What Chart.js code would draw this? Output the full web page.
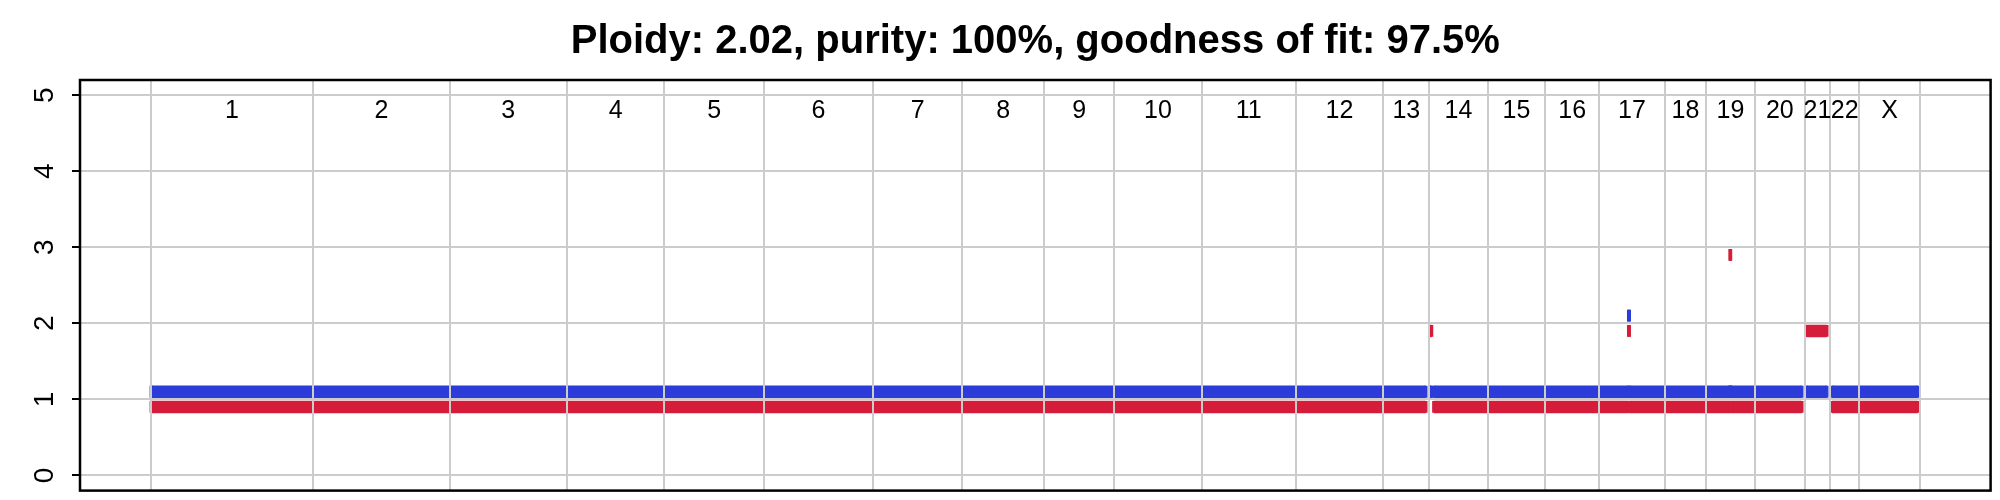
<!DOCTYPE html>
<html>
<head>
<meta charset="utf-8">
<script src="https://cdn.jsdelivr.net/npm/chart.js@4.4.1/dist/chart.umd.min.js"></script>
<style>
  html, body { margin: 0; padding: 0; background: #ffffff; }
  canvas { display: block; }
</style>
</head>
<body>
<canvas id="c" width="2000" height="500"></canvas>
<script>
// ---- Data (x axis = cumulative probe index) ----
const chromLabels = ['1','2','3','4','5','6','7','8','9','10','11','12','13','14','15','16','17','18','19','20','21','22','X'];
const chromSizes = [16260, 13650, 11750, 9760, 9960, 10950, 8890, 8230, 6990, 8790, 9380, 8790, 4600, 5850, 5760, 5400, 6560, 4150, 4870, 5000, 2550, 2900, 6070];

// copy-number segments: first / last probe index of each segment
const segStart = [60,     128050, 128460, 147965, 148020, 158135, 158155, 165740, 168310];
const segEnd   = [127645, 128220, 147960, 148015, 158125, 158145, 165290, 167790, 176900];
const majorCN  = [1, 2, 1, 2, 1, 3, 1, 2, 1];   // red
const minorCN  = [1, 1, 1, 2, 1, 1, 1, 1, 1];   // blue

const yTicks = [0, 1, 2, 3, 4, 5];
const titleText = 'Ploidy: 2.02, purity: 100%, goodness of fit: 97.5%';

// ---- Derived ----
const boundaries = [0];
chromSizes.forEach(s => boundaries.push(boundaries[boundaries.length - 1] + s));
const total = boundaries[boundaries.length - 1];

const FONT = '"Liberation Sans", Arial, Helvetica, sans-serif';
const RED = '#d51c3a';
const BLUE = '#2b3cd8';
const GRID = '#cccccc';

function buildSeries(values, offset) {
  const pts = [];
  segStart.forEach((s, i) => {
    pts.push({ x: s, y: values[i] + offset });
    pts.push({ x: segEnd[i], y: values[i] + offset });
    pts.push({ x: segEnd[i], y: null });
  });
  return pts;
}

function cnDataset(label, values, offset, color) {
  return {
    label,
    data: buildSeries(values, offset),
    borderColor: color,
    backgroundColor: color,
    borderWidth: 12.5,
    borderCapStyle: 'butt',
    // each probe is drawn as a "|" glyph: vertical marker at segment ends
    pointStyle: 'line',
    pointRotation: 90,
    pointRadius: 5.9,
    pointBorderWidth: 3.5,
    pointBorderColor: color,
    pointBackgroundColor: color,
    spanGaps: false,
    tension: 0
  };
}

const boxAndLabels = {
  id: 'boxAndLabels',
  afterDraw(chart) {
    const { ctx, chartArea: a, scales: { x, y } } = chart;
    ctx.save();
    ctx.font = '25px ' + FONT;
    ctx.fillStyle = '#000000';
    ctx.textAlign = 'center';
    ctx.textBaseline = 'middle';
    chromLabels.forEach((lab, i) => {
      const mid = (boundaries[i] + boundaries[i + 1]) / 2;
      ctx.fillText(lab, x.getPixelForValue(mid), y.getPixelForValue(4.79));
    });
    ctx.strokeStyle = '#000000';
    ctx.lineWidth = 2.5;
    ctx.strokeRect(a.left, a.top, a.right - a.left, a.bottom - a.top);
    ctx.restore();
  }
};

new Chart(document.getElementById('c'), {
  type: 'line',
  data: {
    datasets: [
      cnDataset('major', majorCN, -0.1, RED),
      cnDataset('minor', minorCN, 0.1, BLUE)
    ]
  },
  options: {
    responsive: false,
    animation: false,
    events: [],
    layout: { padding: { left: 0, right: 9, top: 0, bottom: 9 } },
    plugins: {
      legend: { display: false },
      tooltip: { enabled: false },
      title: {
        display: true,
        fullSize: false,
        text: titleText,
        color: '#000000',
        font: { family: FONT, size: 40, weight: 'bold' },
        padding: { top: 18, bottom: 14 }
      }
    },
    scales: {
      x: {
        type: 'linear',
        min: -0.04 * total,
        max: 1.04 * total,
        afterBuildTicks: s => { s.ticks = boundaries.map(v => ({ value: v })); },
        afterFit: s => { s.height = 0; s.paddingLeft = 0; s.paddingRight = 0; },
        ticks: { display: false, autoSkip: false },
        grid: { color: GRID, lineWidth: 2, drawTicks: false, z: 1 },
        border: { display: false }
      },
      y: {
        type: 'linear',
        min: -0.2,
        max: 5.2,
        afterBuildTicks: s => { s.ticks = yTicks.map(v => ({ value: v })); },
        afterFit: s => { s.width = 80; s.paddingTop = 0; s.paddingBottom = 0; },
        ticks: {
          color: '#000000',
          font: { family: FONT, size: 28 },
          minRotation: 90,
          maxRotation: 90,
          crossAlign: 'center',
          padding: 19
        },
        grid: { color: GRID, lineWidth: 2, tickColor: '#000000', tickLength: 8, tickWidth: 2 },
        border: { display: false }
      }
    }
  },
  plugins: [boxAndLabels]
});
</script>
</body>
</html>
